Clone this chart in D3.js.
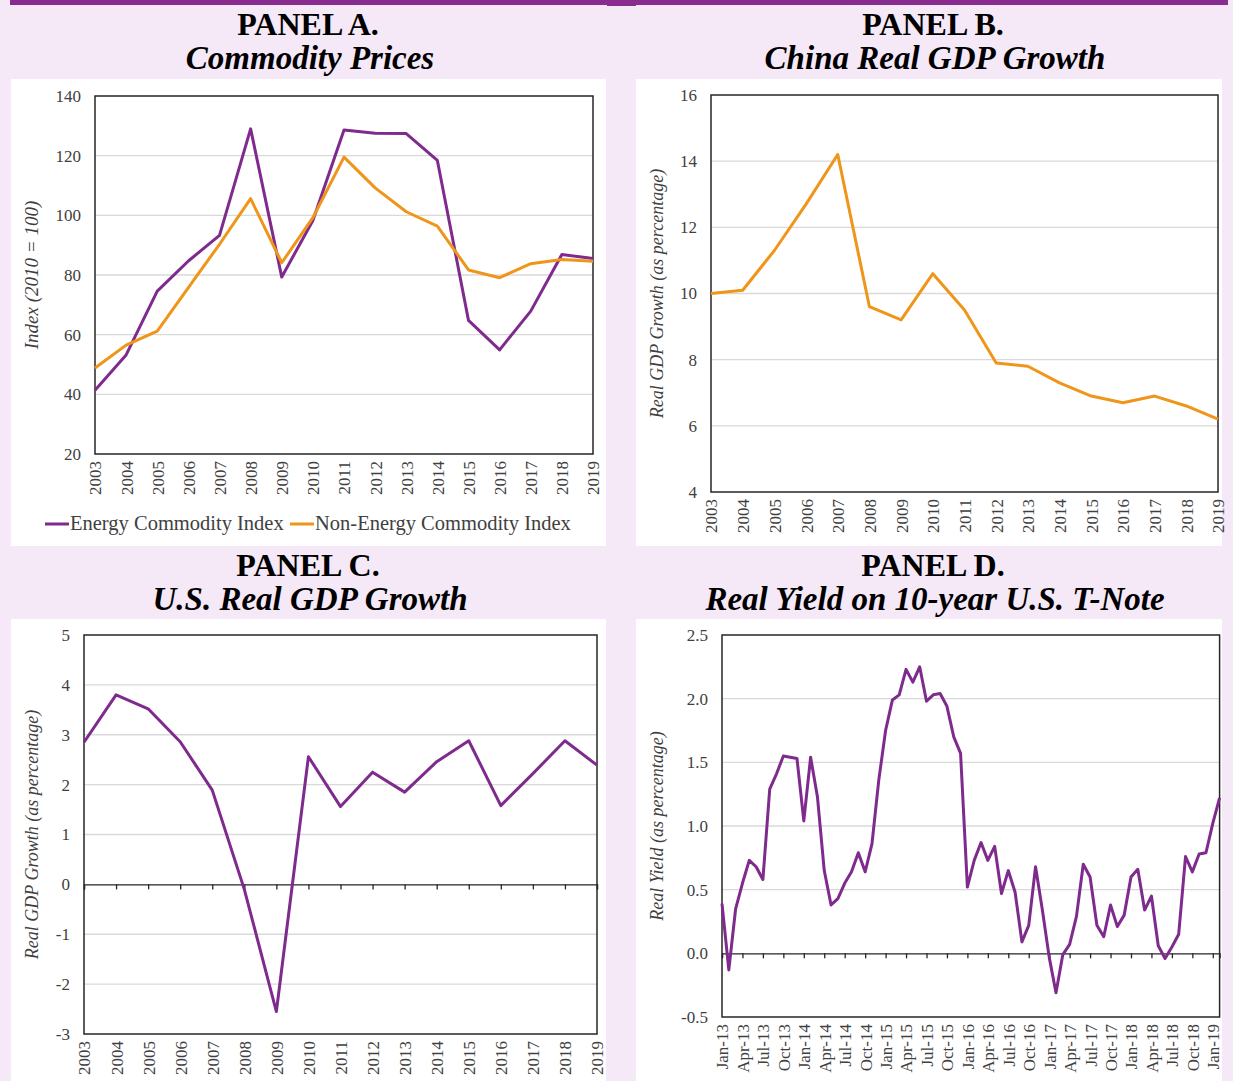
<!DOCTYPE html>
<html>
<head>
<meta charset="utf-8">
<script src="https://cdn.jsdelivr.net/npm/d3@7"></script>
<style>
  body { margin: 0; background: #f5e8f7; }
  svg { display: block; font-family: "Liberation Serif", "Times New Roman", serif; }
</style>
</head>
<body>
<div id="chart"></div>
<script>
// === DATA ===
const years = ["2003", "2004", "2005", "2006", "2007", "2008", "2009", "2010", "2011",
               "2012", "2013", "2014", "2015", "2016", "2017", "2018", "2019"];

const energyIndex = [41.4, 53.2, 74.6, 84.7, 93.3, 129.0, 79.3, 98.3, 128.6,
                     127.5, 127.4, 118.4, 64.8, 54.9, 67.9, 86.9, 85.5];
const nonEnergyIndex = [48.8, 56.5, 61.2, 75.8, 90.3, 105.6, 84.1, 99.2, 119.5,
                        109.2, 101.2, 96.4, 81.7, 79.1, 83.8, 85.2, 84.6];

const chinaGdp = [10.0, 10.1, 11.3, 12.7, 14.2, 9.6, 9.2, 10.6, 9.5,
                  7.9, 7.8, 7.3, 6.9, 6.7, 6.9, 6.6, 6.2];

const usGdp = [2.85, 3.8, 3.52, 2.86, 1.89, -0.1, -2.55, 2.56, 1.56,
               2.25, 1.85, 2.46, 2.88, 1.58, 2.22, 2.88, 2.39];

// monthly categories Jan-13 .. Feb-19
const fmtMonth = d3.timeFormat("%b-%y");
const months = d3.timeMonth.range(new Date(2013, 0, 1), new Date(2019, 2, 1)).map(fmtMonth);

const realYield = [
  0.39, -0.13, 0.35, 0.55, 0.73, 0.68, 0.58, 1.29, 1.41, 1.55, 1.54, 1.53,   // 2013
  1.04, 1.54, 1.23, 0.65, 0.38, 0.43, 0.55, 0.64, 0.79, 0.64, 0.86, 1.36,    // 2014
  1.75, 1.99, 2.03, 2.23, 2.13, 2.25, 1.98, 2.03, 2.04, 1.94, 1.70, 1.57,    // 2015
  0.52, 0.73, 0.87, 0.73, 0.84, 0.47, 0.65, 0.48, 0.09, 0.22, 0.68, 0.34,    // 2016
  -0.03, -0.31, -0.01, 0.07, 0.29, 0.70, 0.60, 0.22, 0.13, 0.38, 0.21, 0.30, // 2017
  0.60, 0.66, 0.34, 0.45, 0.06, -0.04, 0.05, 0.15, 0.76, 0.64, 0.78, 0.79,   // 2018
  1.02, 1.22                                                                  // 2019
];

const ticksA = [20, 40, 60, 80, 100, 120, 140];
const ticksB = [4, 6, 8, 10, 12, 14, 16];
const ticksC = [-3, -2, -1, 0, 1, 2, 3, 4, 5];
const ticksD = [-0.5, 0.0, 0.5, 1.0, 1.5, 2.0, 2.5];

const purple = "#7f2a8d";
const orange = "#ef951a";
const serif = "Liberation Serif";

// === CANVAS ===
const W = 1233, H = 1081;
const svg = d3.select("#chart").append("svg")
  .attr("width", W).attr("height", H);

svg.append("rect").attr("width", W).attr("height", H).attr("fill", "#f5e8f7");
svg.append("rect").attr("x", 10).attr("y", 0).attr("width", 1218).attr("height", 5).attr("fill", "#8a2b8f");
svg.append("rect").attr("x", 607).attr("y", 0).attr("width", 29).attr("height", 6).attr("fill", "#8a2b8f");

// white panel boxes
[[11, 79, 595, 467], [636, 79, 586, 467], [11, 619, 595, 470], [636, 619, 586, 470]]
  .forEach(b => svg.append("rect")
    .attr("x", b[0]).attr("y", b[1]).attr("width", b[2]).attr("height", b[3])
    .attr("fill", "#ffffff"));

// titles
function title(cx, y, head, sub) {
  svg.append("text").attr("x", cx).attr("y", y)
    .attr("text-anchor", "middle").style("font-size", "32px").style("font-weight", "bold")
    .text(head);
  svg.append("text").attr("x", cx + 2).attr("y", y + 34)
    .attr("text-anchor", "middle").style("font-size", "33px").style("font-weight", "bold")
    .style("font-style", "italic")
    .text(sub);
}
title(308, 35, "PANEL A.", "Commodity Prices");
title(933, 35, "PANEL B.", "China Real GDP Growth");
title(308, 576, "PANEL C.", "U.S. Real GDP Growth");
title(933, 576, "PANEL D.", "Real Yield on 10-year U.S. T-Note");

// === PANEL DRAWING ===
function panel(cfg) {
  const x = d3.scalePoint().domain(cfg.cats).range([cfg.left, cfg.right]);
  const y = d3.scaleLinear().domain(cfg.domain).range([cfg.bottom, cfg.top]);
  const g = svg.append("g");

  // gridlines
  g.append("g").selectAll("line")
    .data(cfg.ticks.filter(t => t !== cfg.domain[0] && t !== cfg.domain[1] && t !== 0))
    .join("line")
      .attr("x1", cfg.left).attr("x2", cfg.right)
      .attr("y1", d => y(d)).attr("y2", d => y(d))
      .attr("stroke", "#d9d9d9").attr("stroke-width", 1.3);

  // y axis labels
  const yAxis = g.append("g")
    .attr("transform", `translate(${cfg.left},0)`)
    .call(d3.axisLeft(y).tickValues(cfg.ticks).tickSize(0).tickPadding(14)
      .tickFormat(cfg.yFormat || (d => String(d))))
    .attr("font-family", serif).attr("font-size", 17);
  yAxis.select(".domain").remove();
  yAxis.selectAll("text").attr("fill", "#404040");

  // x labels at bottom of plot
  const xAxis = g.append("g")
    .attr("transform", `translate(0,${cfg.bottom})`)
    .call(d3.axisBottom(x).tickValues(cfg.xLabels || cfg.cats).tickSize(0))
    .attr("font-family", serif).attr("font-size", 17);
  xAxis.select(".domain").remove();
  xAxis.selectAll("text")
    .attr("transform", "rotate(-90)")
    .attr("x", -7).attr("y", 0).attr("dy", "0.35em")
    .style("text-anchor", "end")
    .attr("fill", "#404040");

  // zero axis with ticks (when domain crosses zero)
  if (cfg.zeroAxis) {
    const z = g.append("g")
      .attr("transform", `translate(0,${y(0)})`)
      .call(d3.axisBottom(x).tickValues(cfg.xLabels || cfg.cats).tickSize(5).tickFormat(""));
    z.select(".domain").attr("stroke", "#262626").attr("stroke-width", 1.3);
    z.selectAll(".tick line").attr("stroke", "#262626").attr("stroke-width", 1.3);
  }

  // plot frame
  g.append("rect")
    .attr("x", cfg.left).attr("y", cfg.top)
    .attr("width", cfg.right - cfg.left).attr("height", cfg.bottom - cfg.top)
    .attr("fill", "none").attr("stroke", "#262626").attr("stroke-width", 1.5);

  // y title
  g.append("text")
    .attr("transform", `translate(${cfg.titleX},${(cfg.top + cfg.bottom) / 2}) rotate(-90)`)
    .attr("text-anchor", "middle")
    .attr("fill", "#404040")
    .style("font-size", cfg.titleSize || "18px").style("font-style", "italic")
    .text(cfg.yTitle);

  // series
  const line = d3.line()
    .x((d, i) => x(cfg.cats[i]))
    .y(d => y(d));
  cfg.series.forEach(s => {
    g.append("path")
      .datum(s.values)
      .attr("d", line)
      .attr("fill", "none")
      .attr("stroke", s.color)
      .attr("stroke-width", 3)
      .attr("stroke-linejoin", "round");
  });
}

panel({
  cats: years, left: 95, right: 593, top: 96, bottom: 454,
  domain: [20, 140], ticks: ticksA, titleX: 38, titleSize: "19px",
  yTitle: "Index (2010 = 100)",
  series: [{ values: energyIndex, color: purple }, { values: nonEnergyIndex, color: orange }]
});

panel({
  cats: years, left: 711, right: 1218, top: 95, bottom: 492,
  domain: [4, 16], ticks: ticksB, titleX: 663,
  yTitle: "Real GDP Growth (as percentage)",
  series: [{ values: chinaGdp, color: orange }]
});

panel({
  cats: years, left: 84, right: 597, top: 635, bottom: 1034,
  domain: [-3, 5], ticks: ticksC, titleX: 38, zeroAxis: true,
  yTitle: "Real GDP Growth (as percentage)",
  series: [{ values: usGdp, color: purple }]
});

panel({
  cats: months, left: 722, right: 1219.6, top: 635, bottom: 1017,
  domain: [-0.5, 2.5], ticks: ticksD, titleX: 663, zeroAxis: true,
  xLabels: months.filter((d, i) => i % 3 === 0),
  yFormat: d => d.toFixed(1),
  yTitle: "Real Yield (as percentage)",
  series: [{ values: realYield, color: purple }]
});

// legend for panel A
const legend = svg.append("g");
[{ label: "Energy Commodity Index", color: purple, x: 45 },
 { label: "Non-Energy Commodity Index", color: orange, x: 290 }].forEach(d => {
  legend.append("line")
    .attr("x1", d.x).attr("x2", d.x + 24).attr("y1", 524).attr("y2", 524)
    .attr("stroke", d.color).attr("stroke-width", 3);
  legend.append("text")
    .attr("x", d.x + 25).attr("y", 530)
    .attr("fill", "#404040")
    .style("font-size", "20.5px")
    .text(d.label);
});
</script>
</body>
</html>
